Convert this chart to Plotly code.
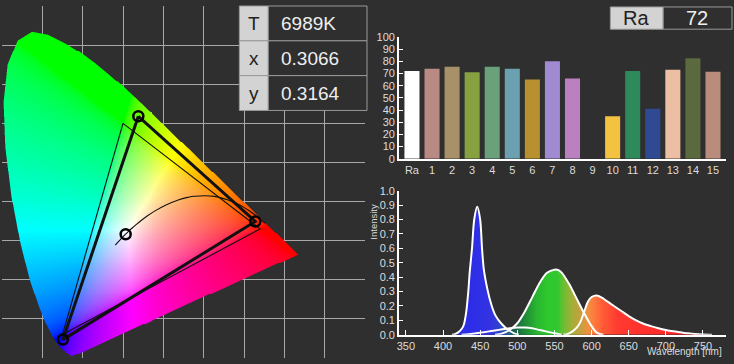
import base64
import struct
import zlib

import numpy as np
import plotly.graph_objects as go

W, H = 734, 364
BG = "#2f2f2f"
FONT = "Liberation Sans, Arial, sans-serif"

# ---------------- data ----------------
# CIE 1931 spectral locus (chromaticity x, y), 380..700 nm
locus_wl = [380, 390, 400, 410, 415, 420, 425, 430, 435, 440, 445, 450, 455, 460, 465,
            470, 475, 480, 485, 490, 495, 500, 505, 510, 515, 520, 525, 530, 535, 540,
            545, 550, 555, 560, 565, 570, 575, 580, 585, 590, 595, 600, 605, 610, 615,
            620, 625, 630, 635, 640, 650, 660, 680, 700]
locus_x = [0.1741, 0.1738, 0.1733, 0.1726, 0.1721, 0.1714, 0.1703, 0.1689, 0.1669, 0.1644,
           0.1611, 0.1566, 0.1510, 0.1440, 0.1355, 0.1241, 0.1096, 0.0913, 0.0687, 0.0454,
           0.0235, 0.0082, 0.0039, 0.0139, 0.0389, 0.0743, 0.1142, 0.1547, 0.1929, 0.2296,
           0.2658, 0.3016, 0.3373, 0.3731, 0.4087, 0.4441, 0.4788, 0.5125, 0.5448, 0.5752,
           0.6029, 0.6270, 0.6482, 0.6658, 0.6801, 0.6915, 0.7006, 0.7079, 0.7140, 0.7190,
           0.7260, 0.7300, 0.7334, 0.7347]
locus_y = [0.0050, 0.0049, 0.0048, 0.0048, 0.0048, 0.0051, 0.0058, 0.0069, 0.0086, 0.0109,
           0.0138, 0.0177, 0.0227, 0.0297, 0.0399, 0.0578, 0.0868, 0.1327, 0.2007, 0.2950,
           0.4127, 0.5384, 0.6548, 0.7502, 0.8120, 0.8338, 0.8262, 0.8059, 0.7816, 0.7543,
           0.7243, 0.6923, 0.6589, 0.6245, 0.5896, 0.5547, 0.5202, 0.4866, 0.4544, 0.4242,
           0.3965, 0.3725, 0.3514, 0.3340, 0.3197, 0.3083, 0.2993, 0.2920, 0.2859, 0.2809,
           0.2740, 0.2700, 0.2666, 0.2653]

# Planckian locus 10000 K .. 1000 K
planck_T = [10000, 9000, 8000, 7000, 6500, 6000, 5500, 5000, 4500, 4000, 3500, 3000,
            2700, 2500, 2000, 1700, 1500, 1400, 1300, 1200, 1100, 1000]
planck_x = [0.2807, 0.2869, 0.2952, 0.3064, 0.3135, 0.3221, 0.3325, 0.3451, 0.3608, 0.3805,
            0.4053, 0.4369, 0.4599, 0.4770, 0.5267, 0.5603, 0.5857, 0.5985, 0.6120, 0.6251,
            0.6387, 0.6528]
planck_y = [0.2884, 0.2956, 0.3048, 0.3166, 0.3237, 0.3318, 0.3411, 0.3516, 0.3636, 0.3768,
            0.3907, 0.4041, 0.4106, 0.4137, 0.4133, 0.4040, 0.3931, 0.3858, 0.3771, 0.3674,
            0.3563, 0.3444]

# measured gamut (G, R, B) and reference sRGB triangle
gamut_x = [0.338, 0.628, 0.151]
gamut_y = [0.618, 0.349, 0.047]
ref_x = [0.300, 0.640, 0.150]
ref_y = [0.600, 0.330, 0.060]
wp_x = [0.3066]
wp_y = [0.3164]

table_labels = ["T", "x", "y"]
table_values = ["6989K", "0.3066", "0.3164"]
ra_label = "Ra"
ra_value = "72"

cri_categories = ["Ra", "1", "2", "3", "4", "5", "6", "7", "8", "9", "10", "11", "12",
                  "13", "14", "15"]
cri_values = [72, 74, 75.5, 71, 75.5, 74, 65, 80, 66, 0, 35, 72, 41, 73, 82.5, 71.5]
bar_colors = ["#ffffff", "#b98a84", "#a89068", "#87a040", "#6aa07a", "#6aa0b0", "#b89030",
              "#a08ad0", "#bb80c0", "#d03030", "#f2c240", "#2e8a5a", "#2f4a92", "#ecbfa4",
              "#5b6a3e", "#b98c7b"]

blue_wl = [412, 416, 420, 425, 428, 431, 434, 436, 439, 442, 446, 450, 452.5, 455, 460, 465,
           470, 475, 480, 485, 490, 495, 502]
blue_i = [0, 0.004, 0.015, 0.04, 0.07, 0.15, 0.30, 0.44, 0.60, 0.80, 0.888, 0.80, 0.60, 0.45,
          0.31, 0.21, 0.14, 0.10, 0.07, 0.045, 0.027, 0.012, 0]
cyan_wl = [425, 440, 450, 460, 470, 480, 490, 500, 510, 520, 530, 540, 550, 560]
cyan_i = [0, 0.008, 0.015, 0.022, 0.03, 0.038, 0.045, 0.05, 0.05, 0.045, 0.033, 0.022, 0.01, 0]
green_wl = [470, 480, 490, 500, 510, 520, 530, 540, 550, 555, 560, 570, 580, 590, 600, 605,
            610, 616]
green_i = [0, 0.01, 0.035, 0.08, 0.16, 0.26, 0.36, 0.43, 0.452, 0.45, 0.43, 0.35, 0.25, 0.15,
           0.06, 0.025, 0.007, 0]
red_wl = [562, 570, 580, 585, 590, 595, 600, 607, 615, 620, 630, 640, 650, 660, 670, 680,
          690, 700, 710, 720, 730, 740, 750, 762]
red_i = [0, 0.01, 0.05, 0.09, 0.16, 0.23, 0.262, 0.273, 0.255, 0.235, 0.20, 0.165, 0.13,
         0.10, 0.077, 0.06, 0.045, 0.033, 0.024, 0.017, 0.01, 0.005, 0.002, 0]

spec_ticks = [350, 400, 450, 500, 550, 600, 650, 700, 750, 780]
spec_color_wl = [340, 440, 465, 478, 488, 496, 510, 525, 540, 553, 560, 572, 585, 595, 603,
                 615, 635, 700, 781]
spec_colors = ["#2a2ae8", "#2d2de8", "#3434e0", "#3048c0", "#2a6090", "#1e6048", "#1f8a38",
               "#28b430", "#2ec82e", "#30c830", "#60c030", "#a0b038", "#c8a040", "#f09040",
               "#ff7a3c", "#ff5a36", "#ff3a30", "#ff2a2a", "#ff2020"]


# ---------------- chromaticity background image ----------------
def inside_poly(X, Y, px, py):
    res = np.zeros(X.shape, bool)
    n = len(px)
    j = n - 1
    for i in range(n):
        xi, yi, xj, yj = px[i], py[i], px[j], py[j]
        if yi != yj:
            cond = ((yi > Y) != (yj > Y)) & (X < (xj - xi) * (Y - yi) / (yj - yi) + xi)
            res ^= cond
        j = i
    return res


def png_data_uri(rgba):
    h, w, _ = rgba.shape
    raw = b"".join(b"\x00" + rgba[i].tobytes() for i in range(h))

    def chunk(t, d):
        return struct.pack(">I", len(d)) + t + d + struct.pack(">I", zlib.crc32(t + d) & 0xFFFFFFFF)

    data = (b"\x89PNG\r\n\x1a\n" + chunk(b"IHDR", struct.pack(">IIBBBBB", w, h, 8, 6, 0, 0, 0))
            + chunk(b"IDAT", zlib.compress(raw, 9)) + chunk(b"IEND", b""))
    return "data:image/png;base64," + base64.b64encode(data).decode()


res = 0.9 / 364.0
nx, ny, ss = 300, 345, 3
xs = (np.arange(nx * ss) + 0.5) * res / ss
ys = (np.arange(ny * ss) + 0.5) * res / ss
X, Y = np.meshgrid(xs, ys)
inside = inside_poly(X, Y, locus_x, locus_y)
Yv = np.maximum(Y, 1e-4)
Xc = X / Yv
Zc = (1 - X - Y) / Yv
R = 3.2406 * Xc - 1.5372 - 0.4986 * Zc
G = -0.9689 * Xc + 1.8758 + 0.0415 * Zc
B = 0.0557 * Xc - 0.2040 + 1.0570 * Zc
rgb = np.clip(np.stack([R, G, B], -1), 0, None)
rgb /= rgb.max(-1, keepdims=True) + 1e-9
rgb = np.where(rgb <= 0.0031308, 12.92 * rgb, 1.055 * np.power(rgb, 1 / 2.4) - 0.055)
a = inside.astype(float)[..., None]
prem = np.concatenate([rgb * a, a], -1)
prem = prem.reshape(ny, ss, nx, ss, 4).mean(axis=(1, 3))
alpha = prem[..., 3:4]
col = np.where(alpha > 0, prem[..., :3] / np.maximum(alpha, 1e-9), 0)
img = np.concatenate([col, alpha], -1)
img = np.clip(np.round(img * 255), 0, 255).astype(np.uint8)
src = png_data_uri(np.ascontiguousarray(img))

fig = go.Figure()
fig.add_trace(go.Image(source=src, x0=res / 2, dx=res, y0=(ny - 0.5) * res, dy=-res,
                       xaxis="x", yaxis="y", hoverinfo="skip"))

# reference triangle (thin)
fig.add_trace(go.Scatter(x=ref_x + ref_x[:1], y=ref_y + ref_y[:1], mode="lines",
                         line=dict(color="#111111", width=1.1), xaxis="x", yaxis="y",
                         hoverinfo="skip"))
# planckian locus
fig.add_trace(go.Scatter(x=planck_x, y=planck_y, mode="lines",
                         line=dict(color="#111111", width=1.1, shape="spline"),
                         xaxis="x", yaxis="y", hoverinfo="skip"))
# measured gamut (thick)
fig.add_trace(go.Scatter(x=gamut_x + gamut_x[:1], y=gamut_y + gamut_y[:1], mode="lines",
                         line=dict(color="#111111", width=3), xaxis="x", yaxis="y",
                         hoverinfo="skip"))
fig.add_trace(go.Scatter(x=gamut_x + wp_x, y=gamut_y + wp_y, mode="markers",
                         marker=dict(symbol="circle-open", size=10, color="#000000",
                                     line=dict(width=2.5, color="#000000")),
                         xaxis="x", yaxis="y", hoverinfo="skip"))

# ---------------- CRI bars ----------------
fig.add_trace(go.Bar(x=cri_categories, y=cri_values, marker=dict(color=bar_colors, line=dict(width=0)),
                     xaxis="x2", yaxis="y2", hoverinfo="skip"))

# ---------------- spectrum ----------------
sx0, sx1 = 340.6, 781.0
cs = [[(w - sx0) / (sx1 - sx0), c] for w, c in zip(spec_color_wl, spec_colors)]
cs[0][0] = 0.0
cs[-1][0] = 1.0
bands = [(blue_wl, blue_i), (cyan_wl, cyan_i), (green_wl, green_i), (red_wl, red_i)]
for wl, iv in bands:
    fig.add_trace(go.Scatter(x=wl, y=iv, mode="lines", line=dict(width=0, shape="spline", smoothing=0.8),
                             fill="tozeroy",
                             fillgradient=dict(type="horizontal", colorscale=cs, start=sx0, stop=sx1),
                             xaxis="x3", yaxis="y3", hoverinfo="skip"))
for wl, iv in bands:
    fig.add_trace(go.Scatter(x=wl, y=iv, mode="lines",
                             line=dict(color="white", width=2, shape="spline", smoothing=0.8),
                             xaxis="x3", yaxis="y3", hoverinfo="skip"))


def px(v):
    return v / W


def py(v):
    return 1 - v / H


tick_font = dict(family=FONT, size=11, color="#dcdcdc")
fig.update_layout(
    width=W, height=H, margin=dict(l=0, r=0, t=0, b=0),
    paper_bgcolor=BG, plot_bgcolor=BG, showlegend=False, bargap=0.25,
    font=dict(family=FONT, color="#dcdcdc"),
    xaxis=dict(domain=[0, px(364)], range=[0, 0.9], dtick=0.1, tick0=0, showgrid=True,
               gridcolor="#a8a8a8", gridwidth=1.4, showticklabels=False, zeroline=False,
               showline=False, ticks="", anchor="y", fixedrange=True, constrain="range",
               autorange=False),
    yaxis=dict(domain=[0, 1], range=[0, 0.9], dtick=0.1, tick0=0, showgrid=True,
               gridcolor="#a8a8a8", gridwidth=1.4, showticklabels=False, zeroline=False,
               showline=False, ticks="", anchor="x", fixedrange=True, constrain="range",
               scaleanchor=False, autorange=False),
    xaxis2=dict(domain=[px(398), px(726)], range=[-0.65, 15.65], anchor="y2", showgrid=False,
                showline=True, linecolor="white", linewidth=1.5, ticks="", tickfont=tick_font,
                zeroline=False, type="category"),
    yaxis2=dict(domain=[py(158), py(32)], range=[0, 100], dtick=10, anchor="x2", showgrid=False,
                showline=True, linecolor="white", linewidth=1.5, ticks="inside", ticklen=4,
                tickcolor="white", tickfont=tick_font, zeroline=False),
    xaxis3=dict(domain=[px(398), px(726)], range=[sx0, sx1], anchor="y3", showgrid=False,
                showline=True, linecolor="white", linewidth=1.5, ticks="inside", ticklen=5,
                tickcolor="white", tickvals=spec_ticks, tickfont=tick_font, zeroline=False),
    yaxis3=dict(domain=[py(340), py(191)], range=[0, 1.0], dtick=0.1, tickformat=".1f",
                anchor="x3", showgrid=False, showline=True, linecolor="white", linewidth=1.5,
                ticks="inside", ticklen=4, tickcolor="white", tickfont=tick_font, zeroline=False),
)

shapes = []
annotations = []
# measurement table
row_h = 36
for k, (lab, val) in enumerate(zip(table_labels, table_values)):
    y0, y1 = k * row_h, (k + 1) * row_h
    shapes.append(dict(type="rect", xref="paper", yref="paper", x0=px(238), x1=px(267),
                       y0=py(y1), y1=py(y0), fillcolor="#d3d3d3",
                       line=dict(color="#9a9a9a", width=1), layer="above"))
    shapes.append(dict(type="rect", xref="paper", yref="paper", x0=px(267), x1=px(366),
                       y0=py(y1), y1=py(y0), fillcolor=BG,
                       line=dict(color="#9a9a9a", width=1), layer="above"))
    annotations.append(dict(xref="paper", yref="paper", x=px(252.5), y=py((y0 + y1) / 2),
                            text=lab, showarrow=False, xanchor="center", yanchor="middle",
                            font=dict(family=FONT, size=19, color="#222222")))
    annotations.append(dict(xref="paper", yref="paper", x=px(278), y=py((y0 + y1) / 2),
                            text=val, showarrow=False, xanchor="left", yanchor="middle",
                            font=dict(family=FONT, size=19, color="#eeeeee")))
# Ra box
shapes.append(dict(type="rect", xref="paper", yref="paper", x0=px(610), x1=px(663),
                   y0=py(24), y1=py(1), fillcolor="#d3d3d3",
                   line=dict(color="#9a9a9a", width=1), layer="above"))
shapes.append(dict(type="rect", xref="paper", yref="paper", x0=px(663), x1=px(732),
                   y0=py(24), y1=py(1), fillcolor=BG,
                   line=dict(color="#9a9a9a", width=1), layer="above"))
annotations.append(dict(xref="paper", yref="paper", x=px(636), y=py(12.5), text=ra_label,
                        showarrow=False, xanchor="center", yanchor="middle",
                        font=dict(family=FONT, size=20, color="#222222")))
annotations.append(dict(xref="paper", yref="paper", x=px(697), y=py(12.5), text=ra_value,
                        showarrow=False, xanchor="center", yanchor="middle",
                        font=dict(family=FONT, size=20, color="#eeeeee")))
# spectrum axis titles
annotations.append(dict(xref="paper", yref="paper", x=px(373), y=py(223), text="Intensity",
                        showarrow=False, textangle=-90, xanchor="center", yanchor="middle",
                        font=dict(family=FONT, size=9.5, color="#dcdcdc")))
annotations.append(dict(xref="paper", yref="paper", x=px(684), y=py(357.5),
                        text="Wavelength [nm]", showarrow=False, xanchor="center",
                        yanchor="middle", borderpad=0,
                        font=dict(family=FONT, size=10, color="#dcdcdc")))
fig.update_layout(shapes=shapes, annotations=annotations)

fig.write_html("out.html")
